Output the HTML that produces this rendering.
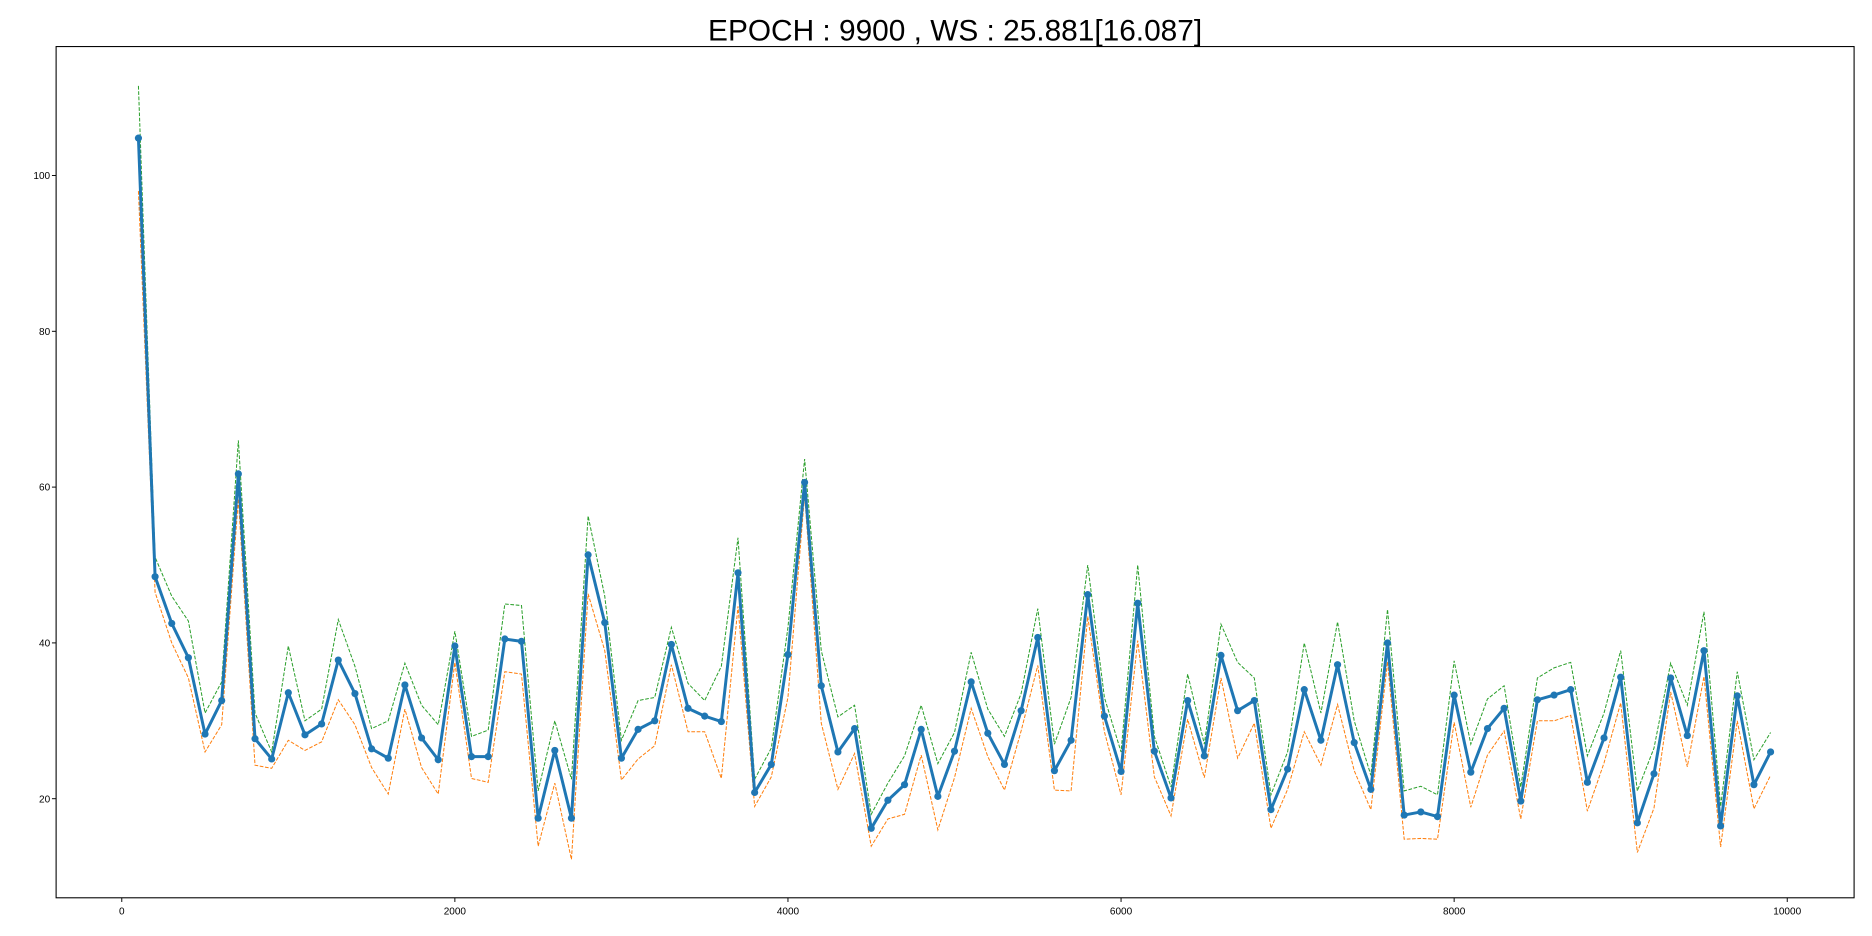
<!DOCTYPE html>
<html><head><meta charset="utf-8"><style>
html,body{margin:0;padding:0;background:#fff;overflow:hidden;}
svg{display:block;font-family:"Liberation Sans",sans-serif;}
</style></head><body>
<svg id="chart" width="1872" height="936" viewBox="0 0 1568 784" preserveAspectRatio="none" xmlns="http://www.w3.org/2000/svg">
<rect width="1568" height="784" fill="#fff"/>
<text x="800" y="34" font-size="25" text-anchor="middle" fill="#000">EPOCH : 9900 , WS : 25.881[16.087]</text>
<g id="plot"></g>
<rect x="47" y="39" width="1506" height="713" fill="none" stroke="#000" stroke-width="0.9"/>
</svg>
<script>
const epochs = [];
for (let e = 100; e <= 9900; e += 100) epochs.push(e);
const wsMean = [104.8,48.5,42.5,38.1,28.3,32.6,61.7,27.7,25.1,33.6,28.2,29.6,37.8,33.5,26.4,25.2,34.6,27.8,25.0,39.6,25.4,25.4,40.5,40.2,17.5,26.2,17.5,51.3,42.6,25.2,28.9,30.0,39.8,31.6,30.6,29.9,49.0,20.8,24.4,38.5,60.6,34.5,26.0,29.0,16.2,19.8,21.8,28.9,20.3,26.1,35.0,28.4,24.4,31.3,40.7,23.6,27.5,46.2,30.6,23.5,45.1,26.1,20.1,32.6,25.5,38.4,31.3,32.6,18.6,23.8,34.0,27.5,37.2,27.2,21.2,40.0,17.9,18.3,17.7,33.3,23.4,29.0,31.6,19.7,32.7,33.3,34.0,22.1,27.8,35.6,16.9,23.2,35.5,28.1,39.0,16.5,33.2,21.8,26.0];
const wsUpper = [111.5,51,46,42.8,31,35,66,31,26,39.6,30,31.5,43,37,29,30,37.4,32,29.5,41.5,28,28.8,45,44.8,21,30,22.5,56.3,46,27.5,32.6,33,42,34.8,32.6,37,53.5,22.5,26.5,42,63.6,39,30.5,32,18,22,25.5,32,24.5,28.5,38.8,31.5,28,33.5,44.4,27,33,50,33,26,50,28,21.5,36,27,42.4,37.5,35.5,20.5,26,40,31,42.7,30,23,44.3,21,21.6,20.5,37.7,27,32.8,34.5,21.5,35.5,36.8,37.5,25.5,31,39,21,26.5,37.4,32,44,19,36.3,25,28.5];
const wsLower = [98,46.5,40,35.5,26,29.5,58.5,24.3,23.9,27.5,26.2,27.3,32.7,29.5,24,20.6,31.5,24,20.6,37.5,22.6,22.1,36.3,36,13.9,22,12.2,46.3,39,22.4,25.1,26.8,37.2,28.6,28.6,22.6,44.7,19,22.8,33,59,29.7,21.2,25.8,13.9,17.4,18,25.6,16,22.7,31.6,25.4,21.1,28.7,37.1,21.1,21,43.4,28.6,20.5,40.3,22.8,17.8,30.2,22.7,35.5,25.2,29.7,16.2,21.2,28.6,24.3,32.1,23.6,18.6,37.6,14.8,14.9,14.8,29.8,18.9,25.6,28.7,17.4,30,30,30.7,18.4,24.6,32.3,13.1,18.8,33.7,24.1,35.7,13.8,30,18.7,23];
const xTicks = [0,2000,4000,6000,8000,10000];
const yTicks = [20,40,60,80,100];

const NS = "http://www.w3.org/2000/svg";
const X = v => 102 + v * (1497 - 102) / 10000;
const Y = v => 669 - (v - 20) * (669 - 147) / 80;
const g = document.getElementById('plot');
function mk(tag, attrs){const el=document.createElementNS(NS,tag);for(const k in attrs)el.setAttribute(k,attrs[k]);g.appendChild(el);return el;}

xTicks.forEach(t=>{
  const l=mk('line',{x1:X(t),x2:X(t),y1:752,y2:755.5,stroke:'#000','stroke-width':0.8});
  
  
  const tx=mk('text',{x:X(t),y:766,'font-size':8.4,'text-anchor':'middle',fill:'#000'});
  tx.textContent=t;
  
  
});
yTicks.forEach(t=>{
  const l=mk('line',{x1:43.5,x2:47,y1:Y(t),y2:Y(t),stroke:'#000','stroke-width':0.8});
  
  
  const tx=mk('text',{x:42,y:Y(t)+3,'font-size':8.4,'text-anchor':'end',fill:'#000'});
  tx.textContent=t;
  
  
});
function pts(arr){return arr.map((v,i)=>X(epochs[i])+','+Y(v)).join(' ');}
const up=mk('polyline',{points:pts(wsUpper),fill:'none',stroke:'#2ca02c','stroke-width':0.85,'stroke-dasharray':'3.1,1.35'});


const lo=mk('polyline',{points:pts(wsLower),fill:'none',stroke:'#ff7f0e','stroke-width':0.85,'stroke-dasharray':'3.1,1.35'});


const mn=mk('polyline',{points:pts(wsMean),fill:'none',stroke:'#1f77b4','stroke-width':2.5,'stroke-linejoin':'round'});


wsMean.forEach((v,i)=>{
  const c=mk('circle',{cx:X(epochs[i]),cy:Y(v),r:3,fill:'#1f77b4'});
  
  
});
</script>
</body></html>
